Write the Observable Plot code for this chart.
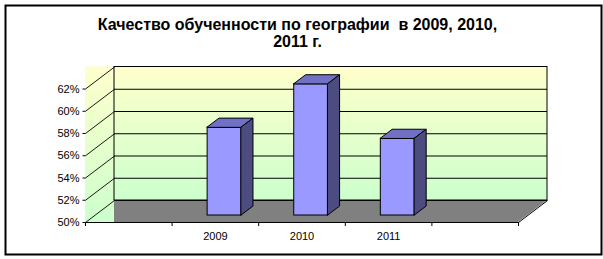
<!DOCTYPE html>
<html>
<head>
<meta charset="utf-8">
<script src="https://cdn.jsdelivr.net/npm/d3@7"></script>
<script src="https://cdn.jsdelivr.net/npm/@observablehq/plot@0.6"></script>
<style>
  html, body { margin: 0; padding: 0; background: #fff; }
  svg text { white-space: pre; }
</style>
</head>
<body>
<div id="chart"></div>
<script>
const titleText = "Качество обученности по географии  в 2009, 2010,\n2011 г.";
const slots = ["", "2009", "2010", "2011", ""];
const categories = ["2009", "2010", "2011"];
const values = [57.9, 61.8, 56.9];
const yTicks = [50, 52, 54, 56, 58, 60, 62];

// plot geometry (front plane)
const W = 603, H = 259;
const X0 = 85, X1 = 518, YB = 222, YT = 88.5;
const pxX = (X1 - X0) / slots.length;
const pxY = (YB - YT) / (62 - 50);
// oblique depth in data units
const du = 29 / pxX, dv = 22 / pxY;
const f0 = 0.318, f1 = 0.727;   // bar front/back depth fraction
const hw = 17 / pxX;            // bar half width

const bars = categories.map((c, i) => ({cat: c, v: values[i], c: slots.indexOf(c) + 0.5}));

const topFaces = bars.flatMap(d => [
  {cat: d.cat, y: d.v + f0 * dv, x1: d.c - hw + f0 * du, x2: d.c + hw + f0 * du},
  {cat: d.cat, y: d.v + f1 * dv, x1: d.c - hw + f1 * du, x2: d.c + hw + f1 * du}
]);
const sideFaces = bars.flatMap(d => [
  {cat: d.cat, x: d.c + hw + f0 * du, y1: 50 + f0 * dv, y2: d.v + f0 * dv},
  {cat: d.cat, x: d.c + hw + f1 * du, y1: 50 + f1 * dv, y2: d.v + f1 * dv}
]);
const floor = [
  {y: 50, x1: du, x2: slots.length},
  {y: 50 + dv, x1: du, x2: slots.length + du}
];
const slotTicks = d3.range(slots.length + 1);

const plot = Plot.plot({
  width: W, height: H,
  marginLeft: X0, marginRight: W - X1, marginTop: YT, marginBottom: H - YB,
  style: {fontFamily: "'Liberation Sans', Arial, sans-serif", background: "#fff", overflow: "visible"},
  x: {type: "linear", domain: [0, slots.length], range: [X0, X1], axis: null},
  y: {domain: [50, 62], range: [YB, YT], axis: null},
  marks: [
    // side wall
    Plot.rect([0], {x1: 0, x2: du, y1: 50, y2: 62 + dv, fill: "url(#sideGrad)"}),
    // back wall
    Plot.rect([0], {x1: du, x2: slots.length + du, y1: 50 + dv, y2: 62 + dv, fill: "url(#backGrad)", stroke: "black"}),
    // floor
    Plot.areaX(floor, {y: "y", x1: "x1", x2: "x2", fill: "#808080"}),
    Plot.link([0], {x1: slots.length, y1: 50, x2: slots.length + du, y2: 50 + dv, stroke: "black"}),
    Plot.ruleY([50 + dv], {x1: du, x2: slots.length + du, stroke: "black"}),
    // grid on back wall
    Plot.ruleY(yTicks.slice(1, -1), {y: d => d + dv, x1: du, x2: slots.length + du, stroke: "black"}),
    // grid on side wall
    Plot.link(yTicks, {x1: 0, y1: d => d, x2: du, y2: d => d + dv, stroke: "black", strokeWidth: 0.9}),
    // y ticks and labels
    Plot.link(yTicks, {x1: -3 / pxX, y1: d => d, x2: 0, y2: d => d, stroke: "black"}),
    Plot.text(yTicks, {x: 0, y: d => d, text: d => d + "%", textAnchor: "end", dx: -6, fontSize: 11, fill: "black"}),
    // x axis
    Plot.ruleY([50], {x1: 0, x2: slots.length, stroke: "black"}),
    Plot.ruleX(slotTicks, {x: d => d, y1: 50, y2: 50 - 4 / pxY, stroke: "black"}),
    Plot.text(slots.map((s, i) => ({s, i})).filter(d => d.s), {x: d => d.i + 0.5, y: 50, text: "s", dy: 13.5, fontSize: 11, fill: "black"}),
    // bars
    Plot.rect(bars, {x1: d => d.c - hw + f0 * du, x2: d => d.c + hw + f0 * du, y1: 50 + f0 * dv, y2: d => d.v + f0 * dv, fill: "#9999FF", stroke: "black"}),
    Plot.areaX(topFaces, {y: "y", x1: "x1", x2: "x2", z: "cat", fill: "#7070C4", stroke: "black", strokeLinejoin: "round"}),
    Plot.areaY(sideFaces, {x: "x", y1: "y1", y2: "y2", z: "cat", fill: "#4C4C80", stroke: "black", strokeLinejoin: "round"}),
    // title
    Plot.text([titleText], {text: d => d, frameAnchor: "top", dx: -4.5, dy: -71.6, lineAnchor: "top", lineHeight: 1.08, fontSize: 16, fontWeight: "bold", fill: "black"}),
    // chart border
    Plot.frame({stroke: "black", strokeWidth: 2, insetLeft: -(X0 - 5), insetRight: -(601 - X1), insetTop: -(YT - 5), insetBottom: -(254 - YB)})
  ]
});

const defs = d3.select(plot).insert("defs", ":first-child");
for (const id of ["backGrad", "sideGrad"]) {
  const g = defs.append("linearGradient").attr("id", id).attr("x1", 0).attr("y1", 0).attr("x2", 0).attr("y2", 1);
  g.append("stop").attr("offset", "0%").attr("stop-color", "#FFFFCC");
  g.append("stop").attr("offset", "100%").attr("stop-color", "#CCFFCC");
}
document.getElementById("chart").appendChild(plot);
</script>
</body>
</html>
